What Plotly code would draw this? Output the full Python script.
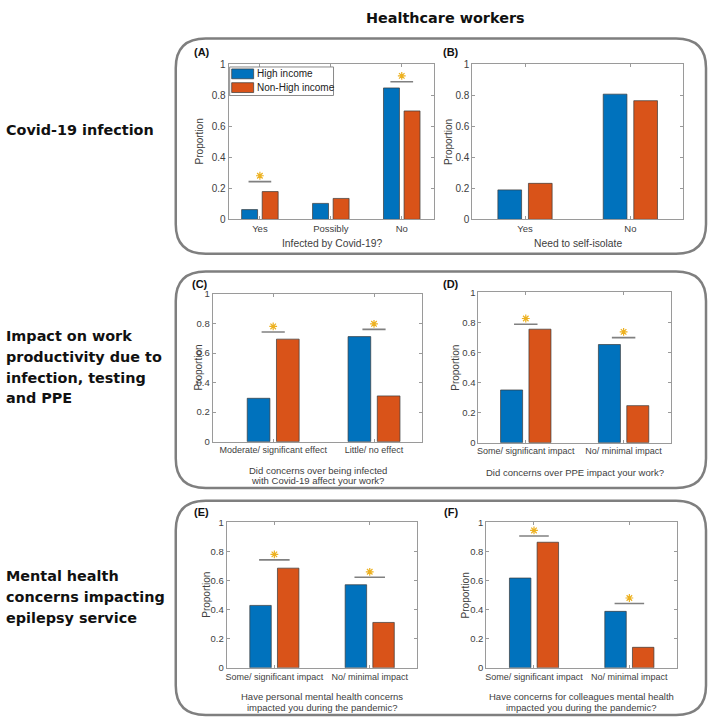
import plotly.graph_objects as go

# ---------------- data ----------------
series_names = ["High income", "Non-High income"]

A_categories = ["Yes", "Possibly", "No"]
A_high = [0.063, 0.103, 0.846]
A_nonhigh = [0.179, 0.135, 0.698]
A_sig = [0.243, None, 0.886]
A_xtitle = ["Infected by Covid-19?"]

B_categories = ["Yes", "No"]
B_high = [0.190, 0.806]
B_nonhigh = [0.232, 0.764]
B_sig = [None, None]
B_xtitle = ["Need to self-isolate"]

C_categories = ["Moderate/ significant effect", "Little/ no effect"]
C_high = [0.294, 0.712]
C_nonhigh = [0.695, 0.310]
C_sig = [0.743, 0.761]
C_xtitle = ["Did concerns over being infected", "with Covid-19 affect your work?"]

D_categories = ["Some/ significant impact", "No/ minimal impact"]
D_high = [0.350, 0.652]
D_nonhigh = [0.754, 0.246]
D_sig = [0.787, 0.698]
D_xtitle = ["Did concerns over PPE impact your work?"]

E_categories = ["Some/ significant impact", "No/ minimal impact"]
E_high = [0.429, 0.571]
E_nonhigh = [0.685, 0.312]
E_sig = [0.742, 0.622]
E_xtitle = ["Have personal mental health concerns", "impacted you during the pandemic?"]

F_categories = ["Some/ significant impact", "No/ minimal impact"]
F_high = [0.617, 0.388]
F_nonhigh = [0.863, 0.141]
F_sig = [0.906, 0.442]
F_xtitle = ["Have concerns for colleagues mental health", "impacted you during the pandemic?"]

y_tickvals = [0, 0.2, 0.4, 0.6, 0.8, 1]
y_ticktext = ["0", "0.2", "0.4", "0.6", "0.8", "1"]

main_title = "Healthcare workers"
row_labels = [
    ["Covid-19 infection"],
    ["Impact on work", "productivity due to", "infection, testing", "and PPE"],
    ["Mental health", "concerns impacting", "epilepsy service"],
]

# ---------------- layout helpers ----------------
W, H = 709, 724
BLUE = "#0072BD"
ORANGE = "#D95319"
GOLD = "#EDB120"
AXC = "#9a9a9a"
TXT = "#404040"


def fx(p):
    return p / W


def fy(p):
    return 1 - p / H


panels = [
    dict(tag="(A)", cats=A_categories, hi=A_high, lo=A_nonhigh, sig=A_sig, xt=A_xtitle,
         box=(228, 59, 434, 217), xr=[0.56, 3.46], half=0.16, tf=9.5, lf=10.3,
         title_y=[241], ylab_x=199, tag_xy=(201, 47)),
    dict(tag="(B)", cats=B_categories, hi=B_high, lo=B_nonhigh, sig=B_sig, xt=B_xtitle,
         box=(472, 59, 683, 217), xr=[0.5, 2.5], half=0.12, tf=9.5, lf=10.3,
         title_y=[242], ylab_x=448, tag_xy=(451, 47)),
    dict(tag="(C)", cats=C_categories, hi=C_high, lo=C_nonhigh, sig=C_sig, xt=C_xtitle,
         box=(212, 293, 422, 443), xr=[0.40, 2.48], half=0.115, tf=9, lf=9.5,
         title_y=[472, 483], ylab_x=198, tag_xy=(199, 283)),
    dict(tag="(D)", cats=D_categories, hi=D_high, lo=D_nonhigh, sig=D_sig, xt=D_xtitle,
         box=(478, 291, 671, 444), xr=[0.515, 2.485], half=0.12, tf=9, lf=9.5,
         title_y=[474], ylab_x=455, tag_xy=(451, 283)),
    dict(tag="(E)", cats=E_categories, hi=E_high, lo=E_nonhigh, sig=E_sig, xt=E_xtitle,
         box=(226, 525, 417, 673), xr=[0.5, 2.5], half=0.16, tf=9, lf=9.5,
         title_y=[702, 713], ylab_x=205, tag_xy=(201, 515)),
    dict(tag="(F)", cats=F_categories, hi=F_high, lo=F_nonhigh, sig=F_sig, xt=F_xtitle,
         box=(486, 525, 677, 673), xr=[0.5, 2.5], half=0.155, tf=9, lf=9.5,
         title_y=[702, 713], ylab_x=465, tag_xy=(451, 515)),
]

OFF = 0.145   # grouped-bar centre offset (category units)
BW = 0.225    # bar width (category units)

fig = go.Figure()
layout = dict(
    width=W, height=H, margin=dict(l=0, r=0, t=0, b=0),
    paper_bgcolor="white", plot_bgcolor="white", showlegend=False,
    font=dict(family="Liberation Sans, Arial, sans-serif", color=TXT),
)
annotations = []
shapes = []

for i, p in enumerate(panels):
    n = "" if i == 0 else str(i + 1)
    xa, ya = "x" + n, "y" + n
    idx = list(range(1, len(p["cats"]) + 1))
    for vals, col, off, name in [(p["hi"], BLUE, -OFF, series_names[0]),
                                 (p["lo"], ORANGE, OFF, series_names[1])]:
        fig.add_trace(go.Bar(
            x=[k + off for k in idx], y=vals, width=BW, name=name,
            marker=dict(color=col, line=dict(color="#3a3a3a", width=0.7)),
            xaxis=xa, yaxis=ya, hoverinfo="skip"))
    # significance markers
    for k, s in zip(idx, p["sig"]):
        if s is None:
            continue
        fig.add_trace(go.Scatter(
            x=[k - p["half"], k + p["half"]], y=[s, s], mode="lines",
            line=dict(color="#808080", width=1.6), xaxis=xa, yaxis=ya, hoverinfo="skip"))
        fig.add_trace(go.Scatter(
            x=[k], y=[s + 0.038], mode="markers",
            marker=dict(symbol="asterisk-open", size=6.5, color=GOLD,
                        line=dict(color=GOLD, width=1.2)),
            xaxis=xa, yaxis=ya, hoverinfo="skip"))
    x0, y0, x1, y1 = p["box"]
    layout["xaxis" + n] = dict(
        domain=[fx(x0), fx(x1)], anchor=ya, range=p["xr"],
        tickvals=idx, ticktext=p["cats"], ticks="inside", ticklen=3, tickcolor=AXC,
        showline=True, linecolor=AXC, linewidth=1, mirror="allticks",
        showgrid=False, zeroline=False, tickfont=dict(size=p["tf"], color=TXT),
        showticklabels=True)
    layout["yaxis" + n] = dict(
        domain=[fy(y1), fy(y0)], anchor=xa, range=[0, 1],
        tickvals=y_tickvals, ticktext=y_ticktext, ticks="inside", ticklen=3, tickcolor=AXC,
        showline=True, linecolor=AXC, linewidth=1, mirror="allticks",
        showgrid=False, zeroline=False, tickfont=dict(size=p["tf"] + 0.5, color=TXT))
    # x-axis title lines
    for line, yy in zip(p["xt"], p["title_y"]):
        annotations.append(dict(
            x=fx((x0 + x1) / 2), y=fy(yy), xref="paper", yref="paper", text=line,
            showarrow=False, xanchor="center", yanchor="middle",
            font=dict(size=p["lf"], color=TXT)))
    # y-axis title
    annotations.append(dict(
        x=fx(p["ylab_x"]), y=fy((y0 + y1) / 2), xref="paper", yref="paper",
        text="Proportion", textangle=-90, showarrow=False, xanchor="center",
        yanchor="middle", font=dict(size=10, color=TXT)))
    # panel tag
    annotations.append(dict(
        x=fx(p["tag_xy"][0]), y=fy(p["tag_xy"][1]), xref="paper", yref="paper",
        text="<b>" + p["tag"] + "</b>", showarrow=False, xanchor="center",
        yanchor="middle", font=dict(size=11, color="#111")))

# manual legend in panel A
shapes.append(dict(type="rect", xref="paper", yref="paper",
                   x0=fx(229), x1=fx(333), y0=fy(91), y1=fy(62),
                   line=dict(color="#8a8a8a", width=1), fillcolor="white", layer="above"))
for j, (name, col) in enumerate(zip(series_names, [BLUE, ORANGE])):
    yc = 69 + 14 * j
    shapes.append(dict(type="rect", xref="paper", yref="paper",
                       x0=fx(231), x1=fx(253), y0=fy(yc + 5), y1=fy(yc - 5),
                       line=dict(color="#3a3a3a", width=0.7), fillcolor=col, layer="above"))
    annotations.append(dict(x=fx(254), y=fy(yc), xref="paper", yref="paper", text=name,
                            showarrow=False, xanchor="left", yanchor="middle",
                            font=dict(size=10, color="#222")))


# rounded group boxes
def rrect(x0, y0, x1, y1, r):
    rx, ry = r, r
    pts = [
        ("M", [(x0 + rx, y0)]), ("L", [(x1 - rx, y0)]), ("Q", [(x1, y0), (x1, y0 + ry)]),
        ("L", [(x1, y1 - ry)]), ("Q", [(x1, y1), (x1 - rx, y1)]), ("L", [(x0 + rx, y1)]),
        ("Q", [(x0, y1), (x0, y1 - ry)]), ("L", [(x0, y0 + ry)]), ("Q", [(x0, y0), (x0 + rx, y0)]),
    ]
    s = ""
    for cmd, cs in pts:
        s += cmd + " ".join("%.5f,%.5f" % (fx(a), fy(b)) for a, b in cs) + " "
    return s + "Z"


for bx in [(175, 33, 706, 252), (175, 270, 706, 490), (175, 503, 706, 721)]:
    shapes.append(dict(type="path", xref="paper", yref="paper", path=rrect(*bx, 30),
                       line=dict(color="#7f7f7f", width=2.5), layer="below"))

# main title and row labels
annotations.append(dict(x=fx(445), y=fy(12), xref="paper", yref="paper",
                        text="<b>" + main_title + "</b>", showarrow=False,
                        xanchor="center", yanchor="middle",
                        font=dict(family="DejaVu Sans", size=14.4, color="#111")))
row_y0 = [126, 336, 580]
for lines, y_start in zip(row_labels, row_y0):
    for k, line in enumerate(lines):
        annotations.append(dict(x=fx(3), y=fy(y_start + 21 * k), xref="paper", yref="paper",
                                text="<b>" + line + "</b>", showarrow=False,
                                xanchor="left", yanchor="middle",
                                font=dict(family="DejaVu Sans", size=14.4, color="#111")))

layout["annotations"] = annotations
layout["shapes"] = shapes
fig.update_layout(**layout)
fig.write_html(
    "out.html",
    config={"displayModeBar": False},
    post_script="document.body.style.margin='0';document.body.style.padding='0';"
                "document.body.style.overflow='hidden';",
)
